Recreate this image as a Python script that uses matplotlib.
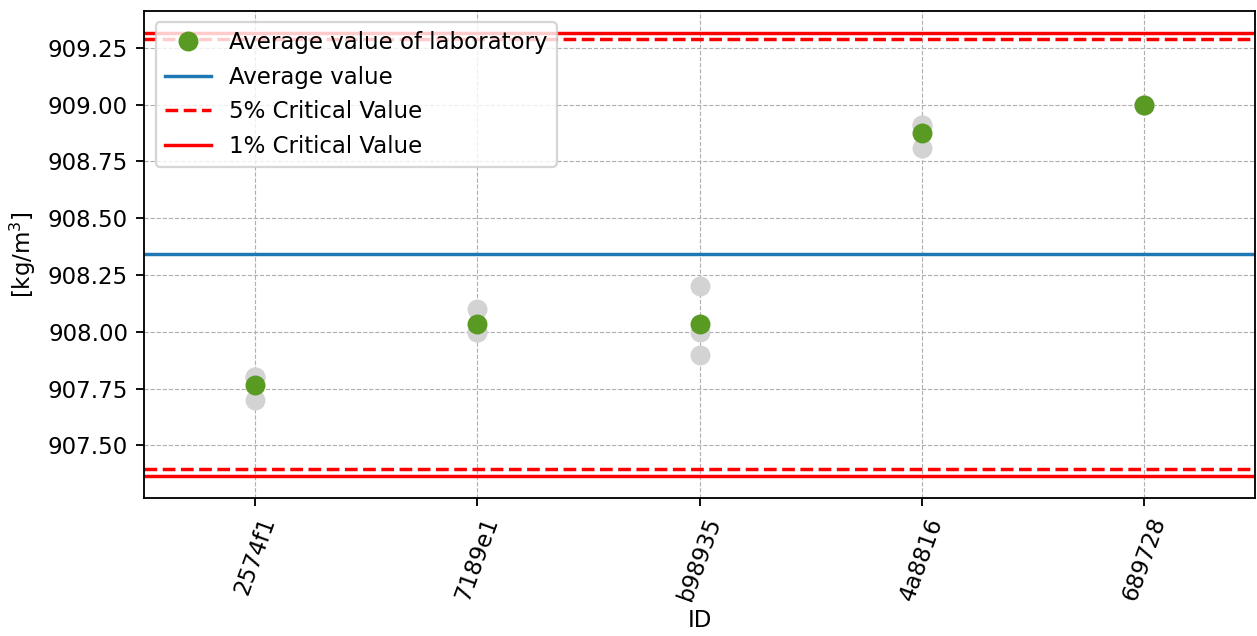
import numpy as np
from matplotlib import pyplot as plt

# lab IDs and the single measurements of each lab
lab_ids = ['2574f1', '7189e1', 'b98935', '4a8816', '689728']
measurements = [
    [907.80, 907.80, 907.70],
    [908.10, 908.00, 908.00],
    [908.20, 908.00, 907.90],
    [908.91, 908.91, 908.81],
    [909.00, 909.00, 909.00],
]
lab_means = [np.mean(m) for m in measurements]

average_value = 908.342
crit_5 = [907.395, 909.289]
crit_1 = [907.367, 909.317]

DPI = 165
fig = plt.figure(figsize=(1257 / DPI, 636 / DPI), dpi=DPI)
ax = fig.add_axes([0.1146, 0.217, 0.884, 0.766])

x = np.arange(len(lab_ids))

# single values (grey), then lab averages (green)
for i, vals in enumerate(measurements):
    ax.plot([x[i]] * len(vals), vals, 'o', color='#d3d3d3', markersize=7.7, zorder=2)
ax.plot(x, lab_means, 'o', color='#599a23', markersize=7.7, zorder=3,
        label='Average value of laboratory')

ax.axhline(average_value, color='#1f77b4', linewidth=1.5, label='Average value')
ax.axhline(crit_5[0], color='red', linestyle='--', linewidth=1.5, label='5% Critical Value')
ax.axhline(crit_5[1], color='red', linestyle='--', linewidth=1.5)
ax.axhline(crit_1[0], color='red', linestyle='-', linewidth=1.5, label='1% Critical Value')
ax.axhline(crit_1[1], color='red', linestyle='-', linewidth=1.5)

ax.set_xlim(-0.5, 4.5)
ax.set_ylim(907.269, 909.413)
ax.set_yticks([907.50, 907.75, 908.00, 908.25, 908.50, 908.75, 909.00, 909.25])
ax.yaxis.set_major_formatter(plt.FormatStrFormatter('%.2f'))
ax.set_xticks(x)
ax.set_xticklabels(lab_ids, rotation=70)

ax.grid(True, linestyle='--', linewidth=0.5, color='#b0b0b0')
ax.set_axisbelow(True)

ax.set_xlabel('ID', labelpad=2)
ax.set_ylabel('[kg/m$^3$]')
ax.legend(loc='upper left')

fig.savefig('out.png', dpi=DPI)
